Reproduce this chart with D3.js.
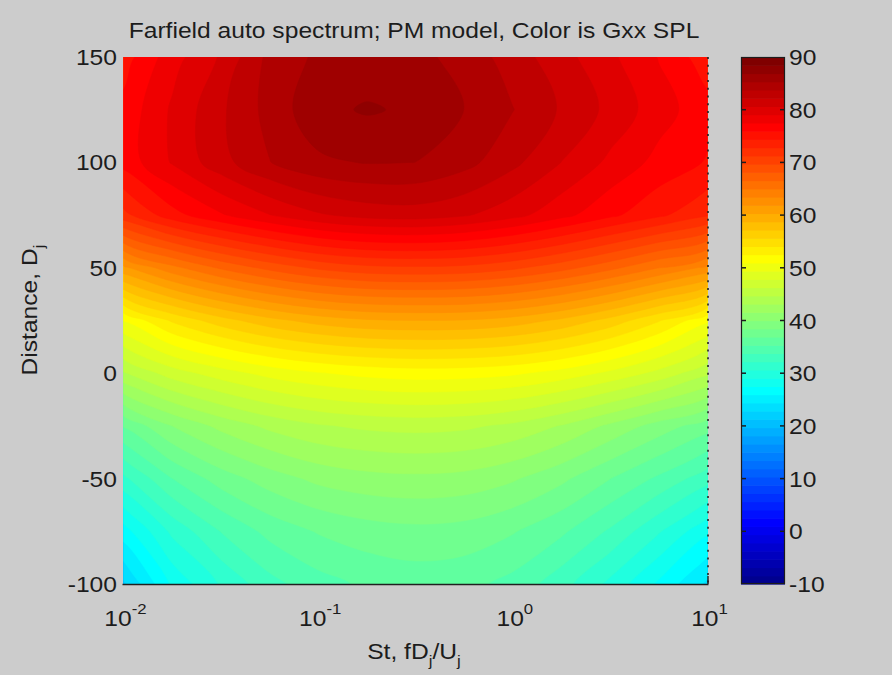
<!doctype html>
<html>
<head>
<meta charset="utf-8">
<script src="https://cdn.jsdelivr.net/npm/d3@7"></script>
<style>
  html, body { margin: 0; padding: 0; background: #cccccc; }
  svg { display: block; }
  text { font-family: "Liberation Sans", Arial, sans-serif; fill: #1c1c1c; }
</style>
</head>
<body>
<svg id="chart" width="892" height="675"></svg>
<script>
// grid the SPL was read on: log10(St) columns, distance rows (top to bottom)
const stExp = [-2, -1.75, -1.5, -1.25, -1, -0.75, -0.5, -0.25, 0, 0.25, 0.5, 0.75, 1];
const distance = [150, 125, 100, 75, 50, 25, 0, -25, -50, -75, -100];

// Gxx SPL, one row per distance
const spl = [
  [75.2, 78.4, 80.8, 84.2, 85.6, 85.9, 85.8, 84.7, 83.0, 81.2, 79.4, 77.4, 75.0],
  [76.4, 79.3, 81.9, 84.3, 86.4, 87.05, 86.6, 85.3, 83.8, 82.0, 80.2, 78.2, 76.5],
  [76.5, 79.2, 81.6, 83.7, 85.0, 85.4, 85.3, 84.3, 82.6, 80.6, 78.7, 77.0, 75.8],
  [72.3, 75.3, 77.3, 79.0, 80.4, 81.2, 81.4, 80.8, 79.6, 78.0, 76.3, 74.7, 73.0],
  [61.5, 64.5, 66.8, 68.6, 70.0, 70.8, 71.0, 70.8, 70.0, 68.7, 67.0, 65.0, 63.0],
  [51.0, 54.3, 56.5, 58.2, 59.4, 60.1, 60.3, 60.2, 59.6, 58.4, 56.6, 54.2, 51.2],
  [44.5, 47.0, 48.6, 49.9, 50.8, 51.4, 51.7, 51.6, 51.2, 50.3, 49.0, 47.3, 45.0],
  [37.0, 40.0, 42.0, 43.5, 44.5, 45.0, 45.2, 45.0, 44.3, 43.0, 41.2, 39.3, 37.5],
  [31.8, 35.3, 37.6, 39.2, 40.4, 41.0, 41.2, 41.0, 40.2, 38.8, 36.9, 35.0, 32.8],
  [26.8, 31.0, 33.8, 35.8, 37.0, 37.7, 38.0, 37.8, 37.0, 35.6, 33.5, 30.8, 27.8],
  [22.5, 27.8, 30.8, 33.2, 34.7, 35.6, 36.0, 35.8, 34.8, 32.8, 30.2, 27.2, 24.0]
];

const xTicks = [0.01, 0.1, 1, 10];
const yTicks = [150, 100, 50, 0, -50, -100];
const cbTicks = [90, 80, 70, 60, 50, 40, 30, 20, 10, 0, -10];
const cLim = [-10, 90];
const nColors = 64;

const svg = d3.select("#chart");
const plot = {left: 123.5, right: 707.5, top: 57, bottom: 584};
const cbar = {left: 741, right: 785};

const x = d3.scaleLog().domain([0.01, 10]).range([plot.left, plot.right]);
const y = d3.scaleLinear().domain([-100, 150]).range([plot.bottom, plot.top]);

// matlab jet(n)
function jet(n) {
  const q = Math.ceil(n / 4);
  const u = [];
  for (let i = 1; i <= q; i++) u.push(i / q);
  for (let i = 1; i < q; i++) u.push(1);
  for (let i = q; i >= 1; i--) u.push(i / q);
  const off = Math.ceil(q / 2) - (n % 4 === 1 ? 1 : 0);
  const J = Array.from({length: n}, () => [0, 0, 0]);
  u.forEach((v, i) => {
    const g = off + i + 1, r = g + q, b = g - q;
    if (r <= n) J[r - 1][0] = v;
    if (g <= n) J[g - 1][1] = v;
    if (b >= 1) J[b - 1][2] = v;
  });
  return J.map(([r, g, b]) => d3.rgb(r * 255, g * 255, b * 255).formatHex());
}
const colors = jet(nColors);
const step = (cLim[1] - cLim[0]) / nColors;
const thresholds = d3.range(nColors).map(k => cLim[0] + k * step);
const colorOf = v => colors[Math.round((v - cLim[0]) / step)];

// filled contours, rings smoothed a little so the coarse grid doesn't show
const n = stExp.length, m = distance.length;
const contours = d3.contours().size([n, m]).thresholds(thresholds)(spl.flat());
const gx = d3.scaleLinear().domain([0.5, n - 0.5]).range([stExp[0], stExp[n - 1]]);
const gy = d3.scaleLinear().domain([0.5, m - 0.5]).range([distance[0], distance[m - 1]]);
const ringLine = d3.line().curve(d3.curveCatmullRomClosed.alpha(0.5));
function contourPath(geom) {
  return geom.coordinates.map(poly => poly.map(ring =>
    ringLine(ring.slice(0, -1).map(([px, py]) => [x(Math.pow(10, gx(px))), y(gy(py))]))
  ).join("")).join("");
}

svg.append("clipPath").attr("id", "clip")
  .append("rect")
    .attr("x", plot.left).attr("y", plot.top)
    .attr("width", plot.right - plot.left).attr("height", plot.bottom - plot.top);

svg.append("g").attr("clip-path", "url(#clip)")
  .selectAll("path")
  .data(contours.filter(d => d.coordinates.length))
  .join("path")
    .attr("d", contourPath)
    .attr("fill", d => colorOf(d.value))
    .attr("stroke", d => colorOf(d.value))
    .attr("stroke-width", 0.5);

// axes box: bottom solid, right dotted
svg.append("line")
    .attr("x1", plot.left - 1).attr("x2", plot.right + 1)
    .attr("y1", plot.bottom + 0.5).attr("y2", plot.bottom + 0.5)
    .attr("stroke", "#202020").attr("stroke-width", 1.5);
svg.append("line")
    .attr("x1", plot.right + 0.5).attr("x2", plot.right + 0.5)
    .attr("y1", plot.top).attr("y2", plot.bottom)
    .attr("stroke", "#222").attr("stroke-width", 1.6)
    .attr("stroke-dasharray", "2,5.7");
svg.append("line")
    .attr("x1", plot.right + 0.5).attr("x2", plot.right + 0.5)
    .attr("y1", plot.bottom - 8).attr("y2", plot.bottom)
    .attr("stroke", "#202020").attr("stroke-width", 1.4);

// text helper, fonts in the picture are a bit wide
function label(parent, tx, ty, anchor, rotate) {
  const g = parent.append("g")
    .attr("transform", `translate(${tx},${ty})${rotate ? " rotate(" + rotate + ")" : ""} scale(1.12,1)`);
  return g.append("text").attr("text-anchor", anchor).attr("font-size", 22);
}

// y tick labels
yTicks.forEach(v => label(svg, 117, y(v) + 8, "end").text(v));

// x tick labels 10^k
xTicks.forEach(v => {
  const t = label(svg, x(v) + 2, 626, "middle");
  t.append("tspan").text("10");
  t.append("tspan").attr("font-size", 15).attr("dy", -12).text(Math.round(Math.log10(v)));
});

// axis titles
const xl = label(svg, 414, 659, "middle");
xl.append("tspan").text("St, fD");
xl.append("tspan").attr("font-size", 15).attr("dy", 7).text("j");
xl.append("tspan").attr("dy", -7).text("/U");
xl.append("tspan").attr("font-size", 15).attr("dy", 7).text("j");

const yl = label(svg, 37, 310, "middle", -90);
yl.append("tspan").text("Distance, D");
yl.append("tspan").attr("font-size", 15).attr("dy", 7).text("j");

label(svg, 414, 38, "middle").text("Farfield auto spectrum; PM model, Color is Gxx SPL");

// colorbar
const cb = d3.scaleLinear().domain(cLim).range([plot.bottom, plot.top]);
svg.append("g")
  .selectAll("rect")
  .data(thresholds)
  .join("rect")
    .attr("x", cbar.left)
    .attr("width", cbar.right - cbar.left)
    .attr("y", d => cb(d + step))
    .attr("height", d => cb(d) - cb(d + step) + 0.6)
    .attr("fill", (d, i) => colors[i]);
svg.append("rect")
    .attr("x", cbar.left + 0.5).attr("y", plot.top + 0.5)
    .attr("width", cbar.right - cbar.left - 1).attr("height", plot.bottom - plot.top - 1)
    .attr("fill", "none").attr("stroke", "#1c1c1c").attr("stroke-width", 1.2);
const cbTick = svg.append("g").attr("stroke", "#1c1c1c").attr("stroke-width", 1.5);
cbTicks.filter(v => v > cLim[0] && v < cLim[1]).forEach(v => {
  cbTick.append("line").attr("x1", cbar.left).attr("x2", cbar.left + 5)
    .attr("y1", cb(v)).attr("y2", cb(v));
  cbTick.append("line").attr("x1", cbar.right - 5).attr("x2", cbar.right)
    .attr("y1", cb(v)).attr("y2", cb(v));
});
cbTicks.forEach(v => label(svg, 789, cb(v) + 8, "start").text(v));
</script>
</body>
</html>
